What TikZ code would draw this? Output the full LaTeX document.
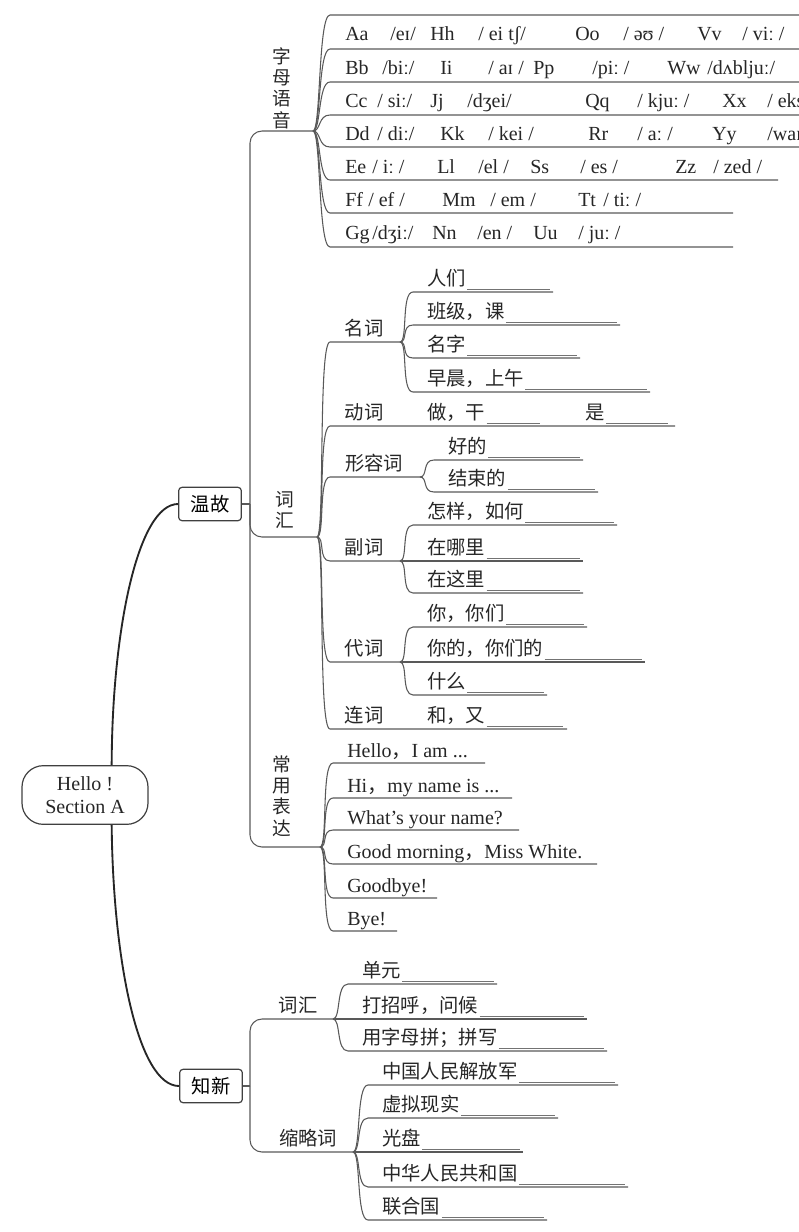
\documentclass[tikz,border=0pt]{standalone}
\usepackage{fontspec}
\setmainfont{Liberation Serif}
\newfontfamily\cjk{Noto Sans CJK SC}

\tikzset{
  stem/.style={line width=1.4pt, draw=black!85},
  twig/.style={line width=0.8pt, draw=black!65},
  blank/.style={line width=0.6pt, draw=black!55},
  topic/.style={draw=black!75, line width=0.9pt, rounded corners=2.5pt, font=\cjk\fontsize{14.5}{17}\selectfont,
    minimum width=47pt, minimum height=25pt, inner sep=1pt},
  hanzi/.style={font=\cjk\fontsize{14.5}{17}\selectfont, text=black!85, inner sep=0pt},
  upright/.style={hanzi, align=center, font=\cjk\fontsize{14}{16}\selectfont},
  latin/.style={font=\fontsize{15}{18}\selectfont, text=black!85, inner sep=0pt, anchor=base west},
}

% leaf with a blank: name, branch, line y, line end x, text
\newcommand{\cnleaf}[5]{%
  \coordinate (#1) at (\twigx,#3);
  \coordinate (#1-e) at (#4,#3);
  \draw[twig] (#2) .. controls +(8,0) and +(-12,0) .. (#1) -- (#1-e);
  \node[hanzi, anchor=base west] (#1-t) at (\twigx+14,#3-7) {#5};
  \draw[blank] ([shift={(1,4)}]#1-t.base east) -- ([shift={(-3,-3)}]#1-e);
}
% leaf without a blank
\newcommand{\enleaf}[5]{%
  \coordinate (#1) at (\twigx,#3);
  \coordinate (#1-e) at (#4,#3);
  \draw[twig] (#2) .. controls +(8,0) and +(-12,0) .. (#1) -- (#1-e);
  \node[latin] (#1-t) at (\twigx+14,#3-6) {#5};
}

\begin{document}
\begin{tikzpicture}[x=0.75pt, y=-0.75pt]
  \useasboundingbox (0,0) rectangle (799,1232);

  % centre and the two topics
  \node[draw=black!75, line width=0.9pt, rounded corners=16pt, minimum width=94.5pt, minimum height=44pt,
    align=center, inner sep=0pt, text=black!85, font=\fontsize{15}{17}\selectfont] (root) at (85,795) {Hello !\\Section A};
  \node[topic] (wg) at (210,504) {温故};
  \node[topic] (zx) at (211,1086) {知新};
  \draw[stem] ([xshift=20pt]root.north) .. controls (112,630) and (138,504) .. (wg.west);
  \draw[stem] ([xshift=20pt]root.south) .. controls (113,960) and (138,1086) .. (zx.west);

  % 温故
  \coordinate (wgj) at (250,504);
  \coordinate (zm) at (313,131);
  \coordinate (ch) at (317,537);
  \coordinate (cy) at (320,847);
  \draw[twig] (wg.east) -- (wgj);
  \draw[twig, rounded corners=9pt] (wgj) |- (zm);
  \draw[twig, rounded corners=9pt] (wgj) |- (ch);
  \draw[twig, rounded corners=9pt] (wgj) |- (cy);
  \node[upright] (zmt) at (282,88) {字\\母\\语\\音};
  \node[upright] (cht) at (285,510) {词\\汇};
  \node[upright] (cyt) at (282,796) {常\\用\\表\\达};

  % letters
  \foreach \y/\e [count=\i] in {15/810, 49/810, 82/810, 115/810, 147/810, 180/778, 213/733, 247/733} {
    \coordinate (ab\i) at (330,\y);
    \coordinate (ab\i-e) at (\e,\y);
    \draw[twig] (zm) .. controls +(8,0) and +(-12,0) .. (ab\i) -- (ab\i-e);
  }
  \foreach \x/\t [count=\i] in {345/Aa, 390/{/eɪ/}, 430/Hh, 478/{/ ei tʃ/}, 575/Oo, 623/{/ əʊ /}, 697/Vv, 742/{/ viː /}}
    \node[latin] (ra-\i) at (\x,40) {\t};
  \foreach \x/\t [count=\i] in {345/Bb, 382/{/biː/}, 440/Ii, 488/{/ aɪ /}, 533/Pp, 592/{/piː /}, 667/Ww, 707/{/dʌbljuː/}}
    \node[latin] (rb-\i) at (\x,74) {\t};
  \foreach \x/\t [count=\i] in {345/Cc, 377/{/ siː/}, 430/Jj, 467/{/dʒei/}, 585/Qq, 637/{/ kjuː /}, 722/Xx, 767/{/ eks /}}
    \node[latin] (rc-\i) at (\x,107) {\t};
  \foreach \x/\t [count=\i] in {345/Dd, 377/{/ diː/}, 440/Kk, 488/{/ kei /}, 588/Rr, 637/{/ aː /}, 712/Yy, 767/{/waɪ/}}
    \node[latin] (rd-\i) at (\x,140) {\t};
  \foreach \x/\t [count=\i] in {345/Ee, 372/{/ iː /}, 437/Ll, 478/{/el /}, 530/Ss, 580/{/ es /}, 675/Zz, 713/{/ zed /}}
    \node[latin] (re-\i) at (\x,173) {\t};
  \foreach \x/\t [count=\i] in {345/Ff, 368/{/ ef /}, 442/Mm, 490/{/ em /}, 578/Tt, 603/{/ tiː /}}
    \node[latin] (rf-\i) at (\x,206) {\t};
  \foreach \x/\t [count=\i] in {345/Gg, 372/{/dʒiː/}, 432/Nn, 477/{/en /}, 533/Uu, 578/{/ juː /}}
    \node[latin] (rg-\i) at (\x,239) {\t};

  % word classes
  \coordinate (mc-s) at (330,342);  \coordinate (mc) at (400,342);
  \coordinate (dg-s) at (330,426);  \coordinate (dg-e) at (675,426);
  \coordinate (xr-s) at (330,477);  \coordinate (xr) at (420,477);
  \coordinate (fc-s) at (330,561);  \coordinate (fc) at (400,561);
  \coordinate (dc-s) at (330,662);  \coordinate (dc) at (400,662);
  \coordinate (lc-s) at (330,729);  \coordinate (lc-e) at (567,729);
  \draw[twig] (ch) .. controls +(8,0) and +(-12,0) .. (mc-s) -- (mc);
  \draw[twig] (ch) .. controls +(8,0) and +(-12,0) .. (dg-s) -- (dg-e);
  \draw[twig] (ch) .. controls +(8,0) and +(-12,0) .. (xr-s) -- (xr);
  \draw[twig] (ch) .. controls +(8,0) and +(-12,0) .. (fc-s) -- (fc);
  \draw[twig] (ch) .. controls +(8,0) and +(-12,0) .. (dc-s) -- (dc);
  \draw[twig] (ch) .. controls +(8,0) and +(-12,0) .. (lc-s) -- (lc-e);
  \node[hanzi, anchor=base] (mcl) at (364,335) {名词};
  \node[hanzi, anchor=base] (dgl) at (364,419) {动词};
  \node[hanzi, anchor=base] (xrl) at (374,470) {形容词};
  \node[hanzi, anchor=base] (fcl) at (364,554) {副词};
  \node[hanzi, anchor=base] (dcl) at (364,655) {代词};
  \node[hanzi, anchor=base] (lcl) at (364,722) {连词};

  \def\twigx{413}
  \cnleaf{rm}{mc}{292}{553}{人们}
  \cnleaf{bj}{mc}{325}{620}{班级，课}
  \cnleaf{mz}{mc}{358}{580}{名字}
  \cnleaf{zs}{mc}{392}{650}{早晨，上午}
  \def\twigx{434}
  \cnleaf{hd}{xr}{460}{583}{好的}
  \cnleaf{js}{xr}{492}{598}{结束的}
  \def\twigx{413}
  \cnleaf{zy}{fc}{525}{617}{怎样，如何}
  \cnleaf{zn}{fc}{561}{583}{在哪里}
  \cnleaf{zz}{fc}{593}{583}{在这里}
  \cnleaf{nm}{dc}{627}{587}{你，你们}
  \cnleaf{nd}{dc}{662}{645}{你的，你们的}
  \cnleaf{sm}{dc}{695}{547}{什么}

  % verbs and conjunction sit on their own line
  \coordinate (zg-e) at (543,426);
  \coordinate (shi-e) at (671,426);
  \coordinate (hy-e) at (566,729);
  \node[hanzi, anchor=base west] (zg) at (427,419) {做，干};
  \node[hanzi, anchor=base west] (shi) at (585,419) {是};
  \node[hanzi, anchor=base west] (hy) at (427,722) {和，又};
  \draw[blank] ([shift={(1,4)}]zg.base east) -- ([shift={(-3,-3)}]zg-e);
  \draw[blank] ([shift={(1,4)}]shi.base east) -- ([shift={(-3,-3)}]shi-e);
  \draw[blank] ([shift={(1,4)}]hy.base east) -- ([shift={(-3,-3)}]hy-e);

  % phrases
  \def\twigx{333}
  \enleaf{h1}{cy}{763}{485}{Hello{\cjk ，}I am ...}
  \enleaf{h2}{cy}{798}{512}{Hi{\cjk ，}my name is ...}
  \enleaf{h3}{cy}{830}{519}{What’s your name?}
  \enleaf{h4}{cy}{864}{597}{Good morning{\cjk ，}Miss White.}
  \enleaf{h5}{cy}{898}{437}{Goodbye!}
  \enleaf{h6}{cy}{931}{397}{Bye!}

  % 知新
  \coordinate (zxj) at (250,1086);
  \coordinate (zv) at (333,1019);
  \coordinate (sl) at (353,1152);
  \draw[twig] (zx.east) -- (zxj);
  \draw[twig, rounded corners=9pt] (zxj) |- (zv);
  \draw[twig, rounded corners=9pt] (zxj) |- (sl);
  \node[hanzi, anchor=base] (zvl) at (298,1012) {词汇};
  \node[hanzi, anchor=base] (sll) at (308,1145) {缩略词};

  \def\twigx{348}
  \cnleaf{dy}{zv}{984}{497}{单元}
  \cnleaf{dz}{zv}{1019}{587}{打招呼，问候}
  \cnleaf{yz}{zv}{1051}{607}{用字母拼；拼写}
  \def\twigx{368}
  \cnleaf{jf}{sl}{1085}{618}{中国人民解放军}
  \cnleaf{xn}{sl}{1118}{558}{虚拟现实}
  \cnleaf{gp}{sl}{1152}{523}{光盘}
  \cnleaf{gh}{sl}{1187}{628}{中华人民共和国}
  \cnleaf{lh}{sl}{1220}{547}{联合国}
\end{tikzpicture}
\end{document}
